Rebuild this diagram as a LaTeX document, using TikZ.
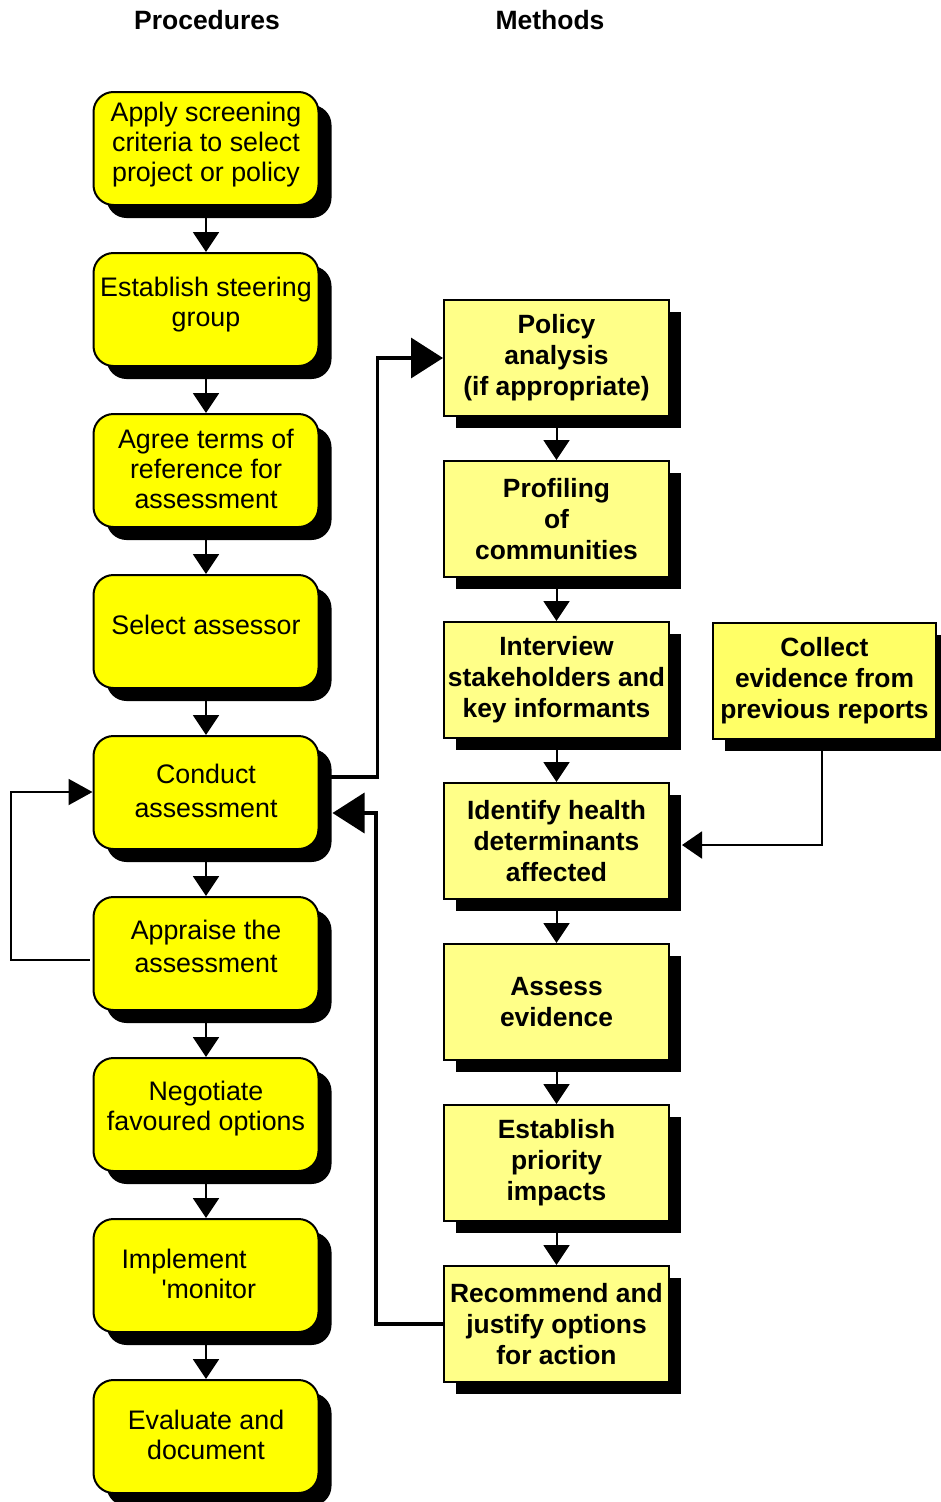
\documentclass[tikz,border=0pt]{standalone}
\usepackage{fontspec}
\newfontfamily\arialfont{Liberation Sans}
\usetikzlibrary{arrows.meta,shadows,calc}
\definecolor{procyellow}{HTML}{FFFF00}
\definecolor{methyellow}{HTML}{FFFF88}
\definecolor{collyellow}{HTML}{FFFF66}
\newcommand\procfont{\arialfont\fontsize{26.8}{30}\selectfont}
\newcommand\methfont{\arialfont\bfseries\fontsize{26.4}{31}\selectfont}
\tikzset{
  proc/.style={draw, line width=2pt, fill=procyellow, rounded corners=20pt,
    minimum width=225pt, minimum height=113pt, inner xsep=0pt, align=center,
    font=\procfont,
    drop shadow={shadow xshift=13pt, shadow yshift=-13pt, opacity=1, fill=black}},
  pad/.style={execute at end node={\rule[-#1]{0pt}{0pt}}},
  meth/.style={draw, line width=2pt, fill=methyellow,
    minimum width=225pt, minimum height=116pt, inner xsep=0pt, align=center,
    font=\methfont,
    drop shadow={shadow xshift=12pt, shadow yshift=-12pt, opacity=1, fill=black}},
  flow/.style={line width=2pt, -{Triangle[length=20pt,width=26pt]}},
  bigflow/.style={line width=3.5pt, -{Triangle[length=32pt,width=40pt]}},
  loopflow/.style={line width=2pt, -{Triangle[length=24pt,width=26pt]}},
  sideflow/.style={line width=2pt, -{Triangle[length=20pt,width=27pt]}},
  header/.style={font=\arialfont\bfseries\fontsize{26.5}{30}\selectfont}
}
\begin{document}
\begin{tikzpicture}[x=1pt,y=-1pt]
\useasboundingbox (0,0) rectangle (941,1502);
\node[header] (hp) at (207,20) {Procedures};
\node[header] (hm) at (550,20) {Methods};

\node[proc,pad=12.5pt] (L1) at (206,148.5) {Apply screening\\criteria to select\\project or policy};
\node[proc,pad=15.5pt] (L2) at (206,309.5) {Establish steering\\group};
\node[proc,pad=4pt] (L3) at (206,470.5) {Agree terms of\\reference for\\assessment};
\node[proc,pad=14pt] (L4) at (206,631.5) {Select assessor};
\node[proc,pad=3pt] (L5) at (206,792.5) {Conduct\\[4pt]assessment};
\node[proc,pad=14pt] (L6) at (206,953.5) {Appraise the\\[3pt]assessment};
\node[proc,pad=16.5pt] (L7) at (206,1114.5) {Negotiate\\favoured options};
\node[proc,pad=4pt,text width=169pt,align=left] (L8) at (206,1275.5) {Implement\\\hspace*{40pt}'monitor};
\node[proc,pad=4pt] (L9) at (206,1436.5) {Evaluate and\\document};

\node[meth] (R1) at (556.5,358) {Policy\\analysis\\(if appropriate)};
\node[meth] (R2) at (556.5,519) {Profiling\\of\\communities};
\node[meth] (R3) at (556.5,680) {Interview\\stakeholders and\\key informants};
\node[meth] (R4) at (556.5,841) {Identify health\\determinants\\affected};
\node[meth] (R5) at (556.5,1002) {Assess\\evidence};
\node[meth] (R6) at (556.5,1163) {Establish\\priority\\impacts};
\node[meth] (R7) at (556.5,1324) {Recommend and\\justify options\\for action};
\node[meth,fill=collyellow,minimum width=223pt] (C) at (824.5,680.5) {Collect\\evidence from\\previous reports};

\foreach \a/\b in {L1/L2,L2/L3,L3/L4,L4/L5,L5/L6,L6/L7,L7/L8,L8/L9,R1/R2,R2/R3,R3/R4,R4/R5,R5/R6,R6/R7}
  \draw[flow] (\a.south) -- (\b.north);

\draw[bigflow] ([yshift=15.5pt]L5.east) -- ++(58,0) |- (R1.west);
\draw[bigflow] (R7.west) -- ++(-67,0) |- ([xshift=13pt,yshift=-20.5pt]L5.east);
\draw[loopflow] ([xshift=-3pt,yshift=-6.5pt]L6.west) -- ++(-79,0) |- ([yshift=0.5pt]L5.west);
\draw[sideflow] ([xshift=-3pt]C.south) |- ([xshift=12pt,yshift=-4pt]R4.east);
\end{tikzpicture}
\end{document}
